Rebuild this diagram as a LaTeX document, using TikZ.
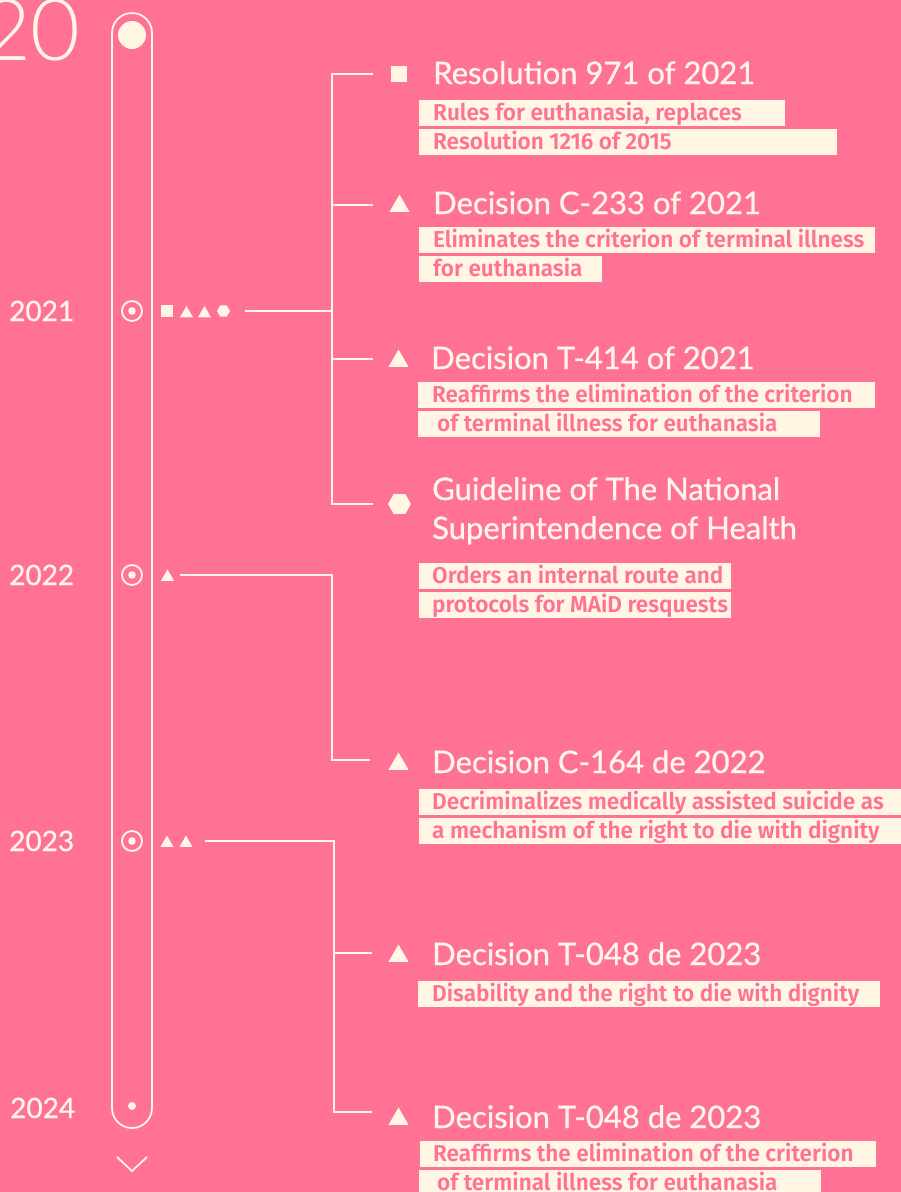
\documentclass[tikz,border=0pt]{standalone}
\usepackage{fontspec}
\usetikzlibrary{shapes.geometric}
\definecolor{bgpink}{RGB}{255,114,150}
\definecolor{cream}{RGB}{255,246,228}
\newfontfamily\titlefont{Lato}[FakeBold=0.8]
\newfontfamily\thinfont{Lato}[UprightFont=* Light]
\newfontfamily\descfont{Fira Sans}[UprightFont=* SemiBold, FakeStretch=0.98]
\tikzset{
  ln/.style={draw=cream, line width=1.8pt},
  ttl/.style={text=cream, font=\titlefont\fontsize{31}{37}\selectfont, anchor=base west, inner sep=0pt},
  yr/.style={text=cream, font=\titlefont\fontsize{28}{34}\selectfont, anchor=base west, inner sep=0pt},
  hl/.style={fill=cream, anchor=west, inner sep=0pt, minimum height=26pt},
  dsc/.style={text=bgpink, font=\descfont\fontsize{23}{27}\selectfont, anchor=base west, inner sep=0pt},
  sqmark/.style={fill=cream, rectangle, minimum size=#1, inner sep=0pt},
  trimark/.style={fill=cream, regular polygon, regular polygon sides=3, minimum size=#1, inner sep=0pt, outer sep=0pt},
  hexmark/.style={fill=cream, regular polygon, regular polygon sides=6, minimum size=#1, inner sep=0pt, outer sep=0pt},
  yearring/.style={circle, draw=cream, line width=1.8pt, minimum size=20pt, inner sep=0pt},
}
\begin{document}
\begin{tikzpicture}[x=1pt,y=-1pt]
\useasboundingbox (0,0) rectangle (901,1192);
\fill[bgpink] (0,0) rectangle (901,1192);

% big partial year at top left
\node[text=cream, font=\thinfont\fontsize{86}{90}\selectfont, anchor=base east, inner sep=0pt] (topyear) at (81,60) {20};

% timeline pill
\node[draw=cream, line width=1.8pt, rounded corners=20pt, minimum width=40pt, minimum height=1115pt, inner sep=0pt] (pill) at (132,570.5) {};
\fill[cream] (132,35) circle (14);
\fill[cream] (132,1106) circle (4);
\draw[cream, line width=1.8pt] (117,1157) -- (132,1171) -- (147,1157);

% year rings
\node[yearring] (r2021) at (132,311) {};
\node[yearring] (r2022) at (132,575) {};
\node[yearring] (r2023) at (132,841) {};
\fill[cream] (r2021.center) circle (3.8);
\fill[cream] (r2022.center) circle (3.8);
\fill[cream] (r2023.center) circle (3.8);

% year labels
\node[yr] (y2021) at (9,321) {2021};
\node[yr] (y2022) at (9,585) {2022};
\node[yr] (y2023) at (9,851) {2023};
\node[yr] (y2024) at (10,1118) {2024};

% small markers
\node[sqmark=12pt] (m21a) at (167,311) {};
\node[trimark=15pt] (m21b) at (186.5,313.5) {};
\node[trimark=15pt] (m21c) at (204.5,313.5) {};
\node[hexmark=13pt] (m21d) at (223.5,311) {};
\node[trimark=15pt] (m22a) at (167.5,577) {};
\node[trimark=15pt] (m23a) at (167,843) {};
\node[trimark=15pt] (m23b) at (186,843) {};

% connector coordinates
\coordinate (s21) at (245,311);
\coordinate (j21) at (332,311);
\coordinate (b1) at (332,74);
\coordinate (b2) at (332,205);
\coordinate (b3) at (332,359);
\coordinate (b4) at (332,504);
\coordinate (e1) at (373,74);
\coordinate (e2) at (373,205);
\coordinate (e3) at (373,359);
\coordinate (e4) at (373,504);
\coordinate (s22) at (180,575);
\coordinate (j22) at (332,575);
\coordinate (b5) at (332,760);
\coordinate (e5) at (370,760);
\coordinate (s23) at (205,841);
\coordinate (j23) at (334,841);
\coordinate (b6) at (334,953);
\coordinate (b7) at (334,1112);
\coordinate (e6) at (372,953);
\coordinate (e7) at (372,1112);

\draw[ln] (s21) -- (j21);
\draw[ln] (e1) -- (b1) -- (b4) -- (e4);
\draw[ln] (b2) -- (e2);
\draw[ln] (b3) -- (e3);
\draw[ln] (s22) -- (j22) -- (b5) -- (e5);
\draw[ln] (s23) -- (j23) -- (b7) -- (e7);
\draw[ln] (b6) -- (e6);

% title icons
\node[sqmark=16pt] (i1) at (399,74) {};
\node[trimark=23pt] (i2) at (399.5,206) {};
\node[trimark=23pt] (i3) at (398.5,361) {};
\node[hexmark=23pt] (i4) at (399.5,504) {};
\node[trimark=23pt] (i5) at (398.5,764) {};
\node[trimark=23pt] (i6) at (398.5,956) {};
\node[trimark=23pt] (i7) at (398.5,1119) {};

% titles
\node[ttl] (t1) at (433,84) {Resolution 971 of 2021};
\node[ttl] (t2) at (433,214) {Decision C-233 of 2021};
\node[ttl] (t3) at (431,369) {Decision T-414 of 2021};
\node[ttl] (t4a) at (432,500) {Guideline of The National};
\node[ttl] (t4b) at (432,539) {Superintendence of Health};
\node[ttl] (t5) at (432,773) {Decision C-164 de 2022};
\node[ttl] (t6) at (432,965) {Decision T-048 de 2023};
\node[ttl] (t7) at (432,1128) {Decision T-048 de 2023};

% highlighted descriptions
\node[hl, minimum width=366pt] (h1a) at (419,113) {};
\node[dsc] (d1a) at (433,120.5) {Rules for euthanasia, replaces};
\node[hl, minimum width=418pt] (h1b) at (419,142) {};
\node[dsc] (d1b) at (433,149.5) {Resolution 1216 of 2015};

\node[hl, minimum width=456pt] (h2a) at (419,240) {};
\node[dsc] (d2a) at (433,247.5) {Eliminates the criterion of terminal illness};
\node[hl, minimum width=183pt] (h2b) at (419,269) {};
\node[dsc] (d2b) at (433,276.5) {for euthanasia};

\node[hl, minimum width=457pt] (h3a) at (418,395) {};
\node[dsc] (d3a) at (432,402.5) {Reaffirms the elimination of the criterion};
\node[hl, minimum width=402pt] (h3b) at (418,424) {};
\node[dsc] (d3b) at (437,431.5) {of terminal illness for euthanasia};

\node[hl, minimum width=312pt] (h4a) at (419,576) {};
\node[dsc] (d4a) at (432,583.5) {Orders an internal route and};
\node[hl, minimum width=312pt] (h4b) at (419,605) {};
\node[dsc] (d4b) at (432,612.5) {protocols for MAiD resquests};

\node[hl, minimum width=482pt] (h5a) at (419,802) {};
\node[dsc] (d5a) at (432,809.5) {Decriminalizes medically assisted suicide as};
\node[hl, minimum width=482pt] (h5b) at (419,831) {};
\node[dsc] (d5b) at (432,838.5) {a mechanism of the right to die with dignity};

\node[hl, minimum width=462pt] (h6a) at (418,994) {};
\node[dsc] (d6a) at (432,1001.5) {Disability and the right to die with dignity};

\node[hl, minimum width=456pt] (h7a) at (420,1154) {};
\node[dsc] (d7a) at (433,1161.5) {Reaffirms the elimination of the criterion};
\node[hl, minimum width=402pt] (h7b) at (419,1183) {};
\node[dsc] (d7b) at (437,1190.5) {of terminal illness for euthanasia};
\end{tikzpicture}
\end{document}
